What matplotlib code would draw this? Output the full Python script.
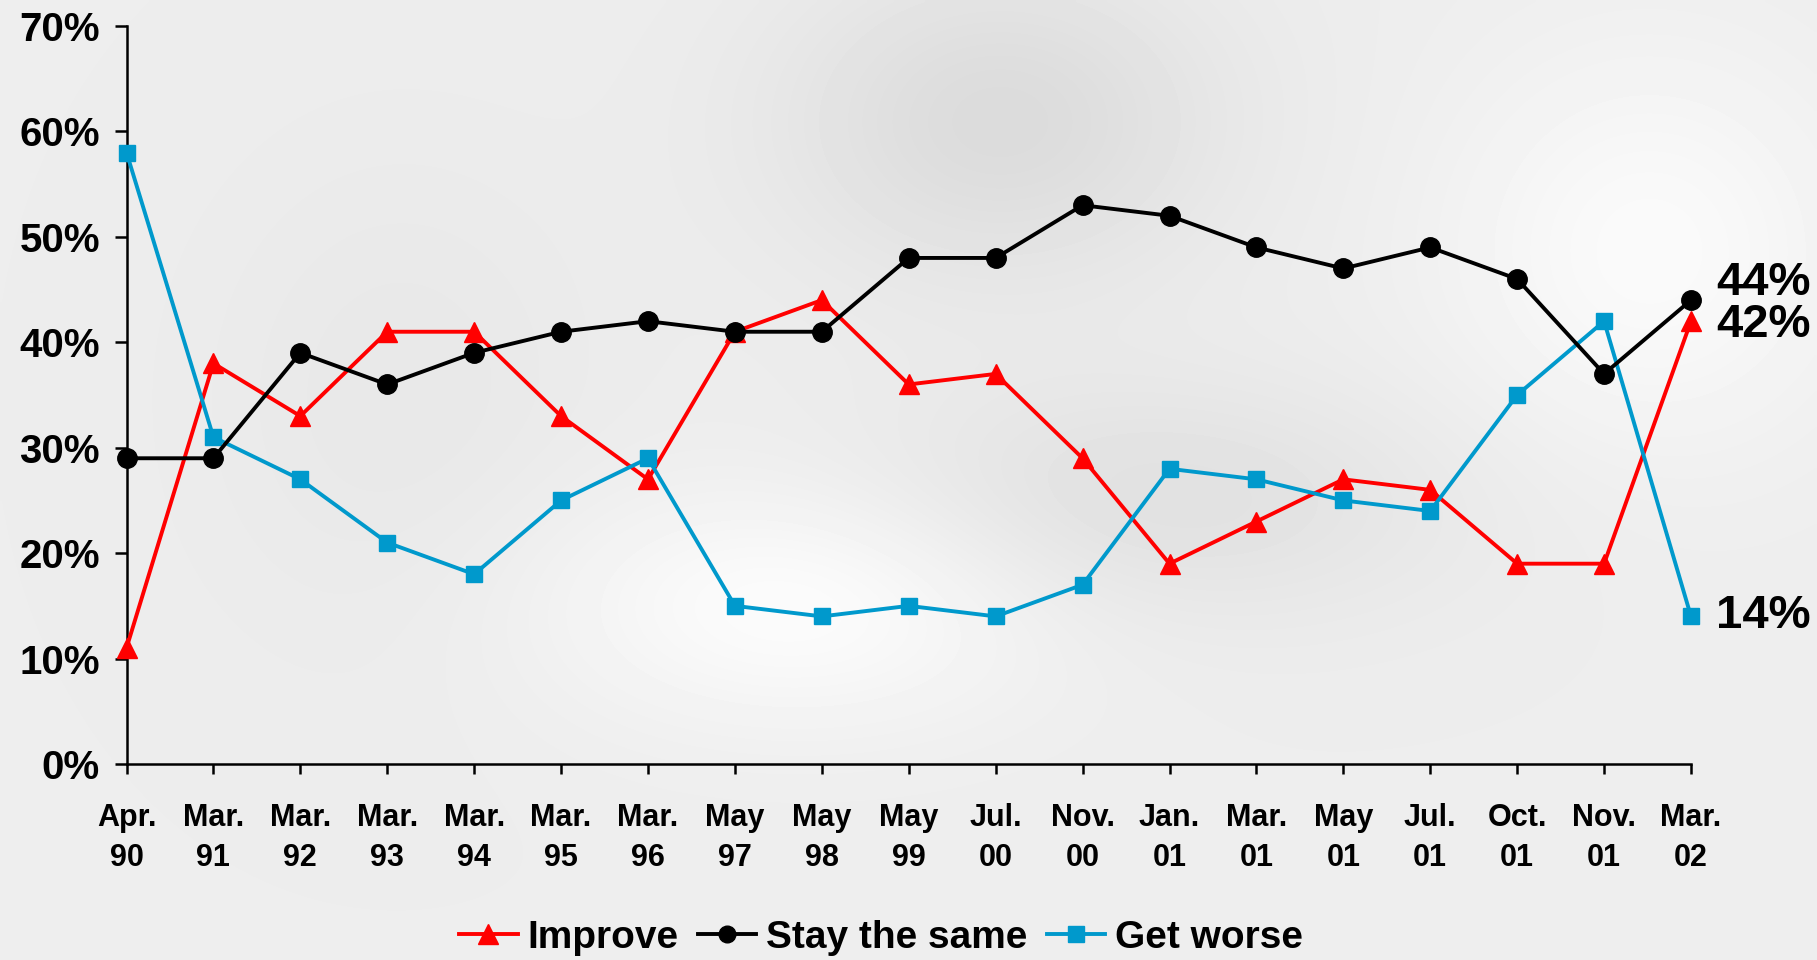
import numpy as np
import matplotlib
matplotlib.use("Agg")
import matplotlib.pyplot as plt
from matplotlib.lines import Line2D

# ---- data ----
categories = ["Apr.\n90", "Mar.\n91", "Mar.\n92", "Mar.\n93", "Mar.\n94", "Mar.\n95",
              "Mar.\n96", "May\n97", "May\n98", "May\n99", "Jul.\n00", "Nov.\n00",
              "Jan.\n01", "Mar.\n01", "May\n01", "Jul.\n01", "Oct.\n01", "Nov.\n01",
              "Mar.\n02"]
improve = [11, 38, 33, 41, 41, 33, 27, 41, 44, 36, 37, 29, 19, 23, 27, 26, 19, 19, 42]
stay_same = [29, 29, 39, 36, 39, 41, 42, 41, 41, 48, 48, 53, 52, 49, 47, 49, 46, 37, 44]
get_worse = [58, 31, 27, 21, 18, 25, 29, 15, 14, 15, 14, 17, 28, 27, 25, 24, 35, 42, 14]
series_names = ["Improve", "Stay the same", "Get worse"]
yticks = [0, 10, 20, 30, 40, 50, 60, 70]

plt.rcParams['font.family'] = ['Liberation Sans', 'DejaVu Sans']
plt.rcParams['font.weight'] = 'bold'

W, H = 1817, 960
fig = plt.figure(figsize=(W / 100, H / 100), dpi=100)

# decorative soft grey background
bg = fig.add_axes([0, 0, 1, 1], zorder=-10)
yy, xx = np.mgrid[0:H:4, 0:W:4]
field = np.full(xx.shape, 0.93)
def blob(cx, cy, sx, sy, amp):
    return amp * np.exp(-(((xx - cx) / sx) ** 2 + ((yy - cy) / sy) ** 2))
field += blob(1000, 120, 220, 160, -0.07)
field += blob(1150, 500, 300, 120, -0.05)
field += blob(800, 600, 250, 120, 0.06)
field += blob(1650, 250, 200, 200, 0.05)
field += blob(400, 400, 200, 250, -0.02)
field = np.clip(field, 0.82, 1.0)
bg.imshow(field, cmap='gray', vmin=0, vmax=1, aspect='auto',
          extent=[0, W, H, 0], interpolation='bilinear')
bg.axis('off')

left = 126.5 / W
right = 1691 / W
bottom = (H - 764) / H
top = (H - 26) / H
ax = fig.add_axes([left, bottom, right - left, top - bottom])
ax.patch.set_alpha(0)

x = np.arange(len(categories))
red = '#ff0000'
blue = '#0099cc'
l1, = ax.plot(x, improve, color=red, lw=2.8, marker='^', ms=15, mec=red, clip_on=False, zorder=3)
l2, = ax.plot(x, stay_same, color='black', lw=2.8, marker='o', ms=14, clip_on=False, zorder=4)
l3, = ax.plot(x, get_worse, color=blue, lw=2.8, marker='s', ms=12, mec=blue, clip_on=False, zorder=3)

ax.set_xlim(0, len(categories) - 1)
ax.set_ylim(0, 70)
ax.set_yticks(yticks)
ax.set_yticklabels([f"{v}%" for v in yticks], fontsize=29, fontweight='bold')
ax.set_xticks(x)
ax.set_xticklabels(categories, fontsize=22, fontweight='bold', linespacing=1.45)
for s in ['top', 'right']:
    ax.spines[s].set_visible(False)
for s in ['left', 'bottom']:
    ax.spines[s].set_linewidth(1.8)
ax.tick_params(axis='y', direction='out', length=9, width=1.8, pad=10)
ax.tick_params(axis='x', direction='out', length=7, width=1.8, pad=21)

# end labels
last = len(categories) - 1
ax.annotate(f"{stay_same[-1]}%", (last, stay_same[-1]), xytext=(18, 12), textcoords='offset points',
            ha='left', va='center', fontsize=34, fontweight='bold', annotation_clip=False)
ax.annotate(f"{improve[-1]}%", (last, improve[-1]), xytext=(18, -3), textcoords='offset points',
            ha='left', va='center', fontsize=34, fontweight='bold', annotation_clip=False)
ax.annotate(f"{get_worse[-1]}%", (last, get_worse[-1]), xytext=(18, 0), textcoords='offset points',
            ha='left', va='center', fontsize=34, fontweight='bold', annotation_clip=False)

handles = [Line2D([], [], color=red, lw=2.8, marker='^', ms=15, mec=red),
           Line2D([], [], color='black', lw=2.8, marker='o', ms=12),
           Line2D([], [], color=blue, lw=2.8, marker='s', ms=12, mec=blue)]
fig.legend(handles, series_names, loc='center', bbox_to_anchor=(881 / W, 1 - 938 / H),
           ncol=3, frameon=False, prop={'size': 28, 'weight': 'bold'},
           handlelength=1.5, handletextpad=0.25, columnspacing=0.5, borderaxespad=0)

fig.savefig("out.png", dpi=100)
